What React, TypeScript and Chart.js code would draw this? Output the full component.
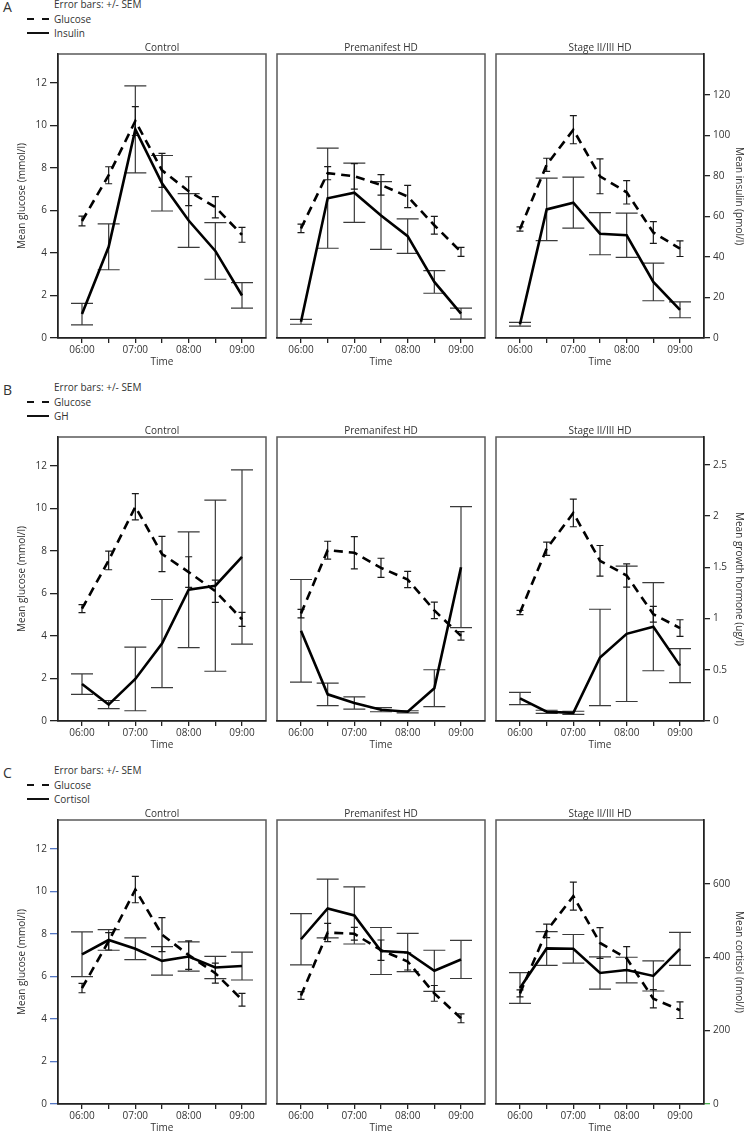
import React, { useEffect, useRef } from 'react';
import { Chart, registerables } from 'chart.js';

Chart.register(...registerables);

// ---------- data ----------
const TIMES = ['06:00', '06:30', '07:00', '07:30', '08:00', '08:30', '09:00'];
const TICK_LABELS = ['06:00', '', '07:00', '', '08:00', '', '09:00'];
const GROUPS = ['Control', 'Premanifest HD', 'Stage II/III HD'];

const GLUCOSE_TICKS = [0, 2, 4, 6, 8, 10, 12];
const INSULIN_TICKS = [0, 20, 40, 60, 80, 100, 120];
const GH_TICKS = [0, 0.5, 1, 1.5, 2, 2.5];
const CORTISOL_TICKS = [0, 200, 400, 600];

const GLUCOSE_MAX = 13.35;
const INSULIN_MAX = 140.2;
const GH_MAX = 2.77;
const CORTISOL_MAX = 774;

// Row A: glucose + insulin
const GLU_A_CTRL = [5.5, 7.65, 10.2, 7.88, 6.9, 6.15, 4.85];
const GLU_A_CTRL_SEM = [0.23, 0.4, 0.68, 0.8, 0.68, 0.5, 0.35];
const INS_A_CTRL = [11.8, 45, 103, 76.4, 58, 43, 21];
const INS_A_CTRL_SEM = [5.3, 11.3, 21.5, 13.7, 13.3, 14, 6.3];

const GLU_A_PRE = [5.15, 7.75, 7.6, 7.2, 6.65, 5.3, 4.05];
const GLU_A_PRE_SEM = [0.2, 0.31, 0.6, 0.48, 0.52, 0.42, 0.21];
const INS_A_PRE = [8, 69, 71.7, 60.5, 50.3, 27.7, 12];
const INS_A_PRE_SEM = [1.2, 24.7, 14.6, 16.7, 8.5, 5.6, 2.7];

const GLU_A_STG = [5.12, 8.14, 9.79, 7.6, 6.85, 4.96, 4.2];
const GLU_A_STG_SEM = [0.1, 0.31, 0.66, 0.82, 0.55, 0.51, 0.37];
const INS_A_STG = [6.8, 63.5, 66.8, 51.5, 50.7, 27.7, 13.9];
const INS_A_STG_SEM = [0.9, 15.4, 12.6, 10.4, 10.9, 9.3, 3.9];

// Row B: glucose + growth hormone
const GLU_B_CTRL = [5.28, 7.55, 10.07, 7.85, 7.0, 6.1, 4.78];
const GLU_B_CTRL_SEM = [0.19, 0.44, 0.62, 0.83, 0.72, 0.52, 0.33];
const GH_B_CTRL = [0.36, 0.16, 0.41, 0.755, 1.28, 1.32, 1.6];
const GH_B_CTRL_SEM = [0.1, 0.04, 0.31, 0.43, 0.565, 0.835, 0.85];

const GLU_B_PRE = [5.05, 8.03, 7.91, 7.2, 6.65, 5.2, 4.0];
const GLU_B_PRE_SEM = [0.2, 0.42, 0.76, 0.45, 0.38, 0.39, 0.2];
const GH_B_PRE = [0.88, 0.26, 0.175, 0.11, 0.09, 0.32, 1.5];
const GH_B_PRE_SEM = [0.5, 0.11, 0.06, 0.02, 0.01, 0.18, 0.59];

const GLU_B_STG = [5.1, 8.1, 9.78, 7.53, 6.84, 5.02, 4.37];
const GLU_B_STG_SEM = [0.1, 0.31, 0.65, 0.72, 0.55, 0.37, 0.39];
const GH_B_STG = [0.22, 0.09, 0.08, 0.62, 0.85, 0.92, 0.54];
const GH_B_STG_SEM = [0.06, 0.015, 0.015, 0.47, 0.66, 0.43, 0.165];

// Row C: glucose + cortisol
const GLU_C_CTRL = [5.45, 7.65, 10.08, 7.96, 7.0, 6.15, 4.9];
const GLU_C_CTRL_SEM = [0.22, 0.41, 0.62, 0.8, 0.67, 0.47, 0.3];
const COR_C_CTRL = [408, 447, 423, 390, 402, 372, 376];
const COR_C_CTRL_SEM = [61, 28, 29.5, 39, 40, 30.5, 38];

const GLU_C_PRE = [5.1, 8.06, 8.0, 7.23, 6.7, 5.2, 4.03];
const GLU_C_PRE_SEM = [0.18, 0.43, 0.3, 0.48, 0.4, 0.37, 0.21];
const COR_C_PRE = [449, 533, 514, 417, 413, 363, 394];
const COR_C_PRE_SEM = [70, 80, 78, 64, 52, 56, 52];

const GLU_C_STG = [5.2, 8.14, 9.77, 7.57, 6.85, 4.95, 4.41];
const GLU_C_STG_SEM = [0.16, 0.32, 0.66, 0.72, 0.55, 0.43, 0.39];
const COR_C_STG = [316, 424, 423, 357, 365, 349, 423];
const COR_C_STG_SEM = [42, 46, 39, 44, 35, 41, 45];

// ---------- structure ----------
const ROWS = [
  {
    letter: 'A', hormone: 'Insulin', axisTitle: 'Mean insulin (pmol/l)', max: INSULIN_MAX, ticks: INSULIN_TICKS,
    panels: [
      { glu: GLU_A_CTRL, gluSem: GLU_A_CTRL_SEM, hor: INS_A_CTRL, horSem: INS_A_CTRL_SEM },
      { glu: GLU_A_PRE, gluSem: GLU_A_PRE_SEM, hor: INS_A_PRE, horSem: INS_A_PRE_SEM },
      { glu: GLU_A_STG, gluSem: GLU_A_STG_SEM, hor: INS_A_STG, horSem: INS_A_STG_SEM },
    ],
  },
  {
    letter: 'B', hormone: 'GH', axisTitle: 'Mean growth hormone (ug/l)', max: GH_MAX, ticks: GH_TICKS,
    panels: [
      { glu: GLU_B_CTRL, gluSem: GLU_B_CTRL_SEM, hor: GH_B_CTRL, horSem: GH_B_CTRL_SEM },
      { glu: GLU_B_PRE, gluSem: GLU_B_PRE_SEM, hor: GH_B_PRE, horSem: GH_B_PRE_SEM },
      { glu: GLU_B_STG, gluSem: GLU_B_STG_SEM, hor: GH_B_STG, horSem: GH_B_STG_SEM },
    ],
  },
  {
    letter: 'C', hormone: 'Cortisol', axisTitle: 'Mean cortisol (nmol/l)', max: CORTISOL_MAX, ticks: CORTISOL_TICKS,
    panels: [
      { glu: GLU_C_CTRL, gluSem: GLU_C_CTRL_SEM, hor: COR_C_CTRL, horSem: COR_C_CTRL_SEM },
      { glu: GLU_C_PRE, gluSem: GLU_C_PRE_SEM, hor: COR_C_PRE, horSem: COR_C_PRE_SEM },
      { glu: GLU_C_STG, gluSem: GLU_C_STG_SEM, hor: COR_C_STG, horSem: COR_C_STG_SEM },
    ],
  },
];

// ---------- layout ----------
const FONT = '"Open Sans", "DejaVu Sans", sans-serif';
const TEXT = '#333';
const BOX_W = 208;
const BOX_H = 284;
const TITLE_H = 20;
const XAXIS_H = 30;
const LEFT_AXIS_W = 58;
const RIGHT_AXIS_W = 41;
const PAD = 4;
const COL_LEFTS = [58, 277, 496];
const ROW_TOPS = [54, 437, 820];

const boxPlugin = {
  id: 'panelBox',
  beforeDraw(chart: any) {
    const { ctx, chartArea: a } = chart;
    ctx.save();
    ctx.strokeStyle = '#5a5a5a';
    ctx.lineWidth = 1.5;
    ctx.strokeRect(a.left, a.top, a.right - a.left, a.bottom - a.top);
    ctx.restore();
  },
};

const errorBarPlugin = {
  id: 'errorBars',
  beforeDatasetsDraw(chart: any, _args: any, opts: any) {
    const { ctx } = chart;
    const xs = chart.scales.x;
    (opts.bars || []).forEach((b: any) => {
      const ys = chart.scales[b.axis];
      ctx.save();
      ctx.strokeStyle = b.color;
      ctx.lineWidth = 1.2;
      ctx.setLineDash([]);
      b.means.forEach((m: number, i: number) => {
        const x = xs.getPixelForValue(i);
        const top = ys.getPixelForValue(m + b.sem[i]);
        const bot = ys.getPixelForValue(m - b.sem[i]);
        ctx.beginPath();
        ctx.moveTo(x, top);
        ctx.lineTo(x, bot);
        ctx.moveTo(x - b.cap, top);
        ctx.lineTo(x + b.cap, top);
        ctx.moveTo(x - b.cap, bot);
        ctx.lineTo(x + b.cap, bot);
        ctx.stroke();
      });
      ctx.restore();
    });
  },
};

function Panel({ row, col }: { row: number; col: number }) {
  const ref = useRef<HTMLCanvasElement | null>(null);
  const isFirst = col === 0;
  const isLast = col === 2;
  const left = isFirst ? 0 : COL_LEFTS[col] - PAD;
  const width = isFirst ? LEFT_AXIS_W + BOX_W + PAD : isLast ? PAD + BOX_W + RIGHT_AXIS_W : PAD * 2 + BOX_W;
  const top = ROW_TOPS[row] - TITLE_H;
  const height = TITLE_H + BOX_H + XAXIS_H;

  useEffect(() => {
    const r = ROWS[row];
    const p = r.panels[col];
    const font = { family: FONT, size: 10 };
    const chart = new Chart(ref.current as HTMLCanvasElement, {
      type: 'line',
      data: {
        datasets: [
          {
            label: 'Glucose',
            data: p.glu.map((v, i) => ({ x: i, y: v })),
            yAxisID: 'y',
            borderColor: '#000',
            borderWidth: 2.6,
            borderDash: [9, 6],
            pointRadius: 0,
            tension: 0,
            fill: false,
          },
          {
            label: r.hormone,
            data: p.hor.map((v, i) => ({ x: i, y: v })),
            yAxisID: 'y1',
            borderColor: '#000',
            borderWidth: 2.6,
            pointRadius: 0,
            tension: 0,
            fill: false,
          },
        ],
      },
      options: {
        animation: false,
        responsive: false,
        events: [],
        layout: { padding: { left: isFirst ? 0 : PAD, right: isLast ? 0 : PAD, top: 0, bottom: 0 } },
        plugins: {
          legend: { display: false },
          tooltip: { enabled: false },
          title: {
            display: true,
            fullSize: false,
            text: GROUPS[col],
            color: TEXT,
            font: { family: FONT, size: 10, weight: 'normal' },
            padding: { top: 8, bottom: 0 },
          },
          errorBars: {
            bars: [
              { axis: 'y1', means: p.hor, sem: p.horSem, cap: 11, color: '#3a3a3a' },
              { axis: 'y', means: p.glu, sem: p.gluSem, cap: 3.5, color: '#1a1a1a' },
            ],
          },
        } as any,
        scales: {
          x: {
            type: 'linear',
            min: -0.9,
            max: 6.9,
            afterBuildTicks: (s: any) => {
              s.ticks = TIMES.map((_, i) => ({ value: i }));
            },
            afterFit: (s: any) => {
              s.height = XAXIS_H;
            },
            ticks: {
              callback: (_v: any, i: number) => TICK_LABELS[i],
              font,
              color: TEXT,
              padding: 1,
              maxRotation: 0,
              autoSkip: false,
            },
            grid: { drawOnChartArea: false, drawTicks: true, tickLength: 5, color: '#222', lineWidth: 1.3 },
            border: { display: true, color: '#222', width: 1.5 },
            title: { display: true, text: 'Time', font, color: TEXT, padding: { top: 0, bottom: 0 } },
          },
          y: {
            type: 'linear',
            display: isFirst,
            position: 'left',
            min: 0,
            max: GLUCOSE_MAX,
            afterBuildTicks: (s: any) => {
              s.ticks = GLUCOSE_TICKS.map((v) => ({ value: v }));
            },
            afterFit: (s: any) => {
              s.width = isFirst ? LEFT_AXIS_W : 0;
            },
            ticks: { callback: (v: any) => String(v), font, color: TEXT, padding: 3 },
            grid: {
              drawOnChartArea: false,
              drawTicks: true,
              tickLength: 8,
              color: row === 2 ? '#5577c4' : '#222',
              lineWidth: 1.3,
            },
            border: { display: true, color: '#222', width: 1.5 },
            title: {
              display: true,
              text: 'Mean glucose (mmol/l)',
              font,
              color: TEXT,
              padding: { top: 16, bottom: 0 },
            },
          },
          y1: {
            type: 'linear',
            display: isLast,
            position: 'right',
            min: 0,
            max: r.max,
            afterBuildTicks: (s: any) => {
              s.ticks = r.ticks.map((v) => ({ value: v }));
            },
            afterFit: (s: any) => {
              s.width = isLast ? RIGHT_AXIS_W : 0;
            },
            ticks: { callback: (v: any) => String(v), font, color: TEXT, padding: 3 },
            grid: {
              drawOnChartArea: false,
              drawTicks: true,
              tickLength: 6,
              color: (c: any) => (row === 2 && c.tick && c.tick.value === 0 ? '#4caf50' : '#222'),
              lineWidth: 1.3,
            },
            border: { display: true, color: '#222', width: 1.5 },
            title: { display: true, text: r.axisTitle, font, color: TEXT, padding: { top: 0, bottom: 0 } },
          },
        } as any,
      },
      plugins: [boxPlugin, errorBarPlugin],
    } as any);
    return () => chart.destroy();
  }, [row, col]);

  return (
    <canvas
      ref={ref}
      width={width}
      height={height}
      style={{ position: 'absolute', left, top, width, height }}
    />
  );
}

function Legend({ row }: { row: number }) {
  const r = ROWS[row];
  const t = ROW_TOPS[row];
  const txt = (y: number, x: number, s: string, size = 10) => (
    <div
      style={{
        position: 'absolute',
        left: x,
        top: y - 8,
        height: 16,
        lineHeight: '16px',
        fontSize: size,
        color: TEXT,
        whiteSpace: 'nowrap',
        fontFamily: FONT,
      }}
    >
      {s}
    </div>
  );
  return (
    <>
      {txt(t - 47, 3, r.letter, 14)}
      {txt(t - 50, 54, 'Error bars: +/- SEM')}
      {txt(t - 35, 54, 'Glucose')}
      {txt(t - 21, 54, r.hormone)}
      <svg
        width={30}
        height={30}
        style={{ position: 'absolute', left: 24, top: t - 42 }}
      >
        <line x1={3} y1={7} x2={25} y2={7} stroke="#111" strokeWidth={2} strokeDasharray="7,8" />
        <line x1={3} y1={21} x2={25} y2={21} stroke="#111" strokeWidth={2} />
      </svg>
    </>
  );
}

export default function App() {
  return (
    <div
      style={{
        position: 'absolute',
        left: 0,
        top: 0,
        width: 745,
        height: 1133,
        background: '#fff',
        fontFamily: FONT,
        overflow: 'hidden',
      }}
    >
      {ROWS.map((_, ri) => (
        <React.Fragment key={ri}>
          <Legend row={ri} />
          {GROUPS.map((__, ci) => (
            <Panel key={ci} row={ri} col={ci} />
          ))}
        </React.Fragment>
      ))}
    </div>
  );
}
